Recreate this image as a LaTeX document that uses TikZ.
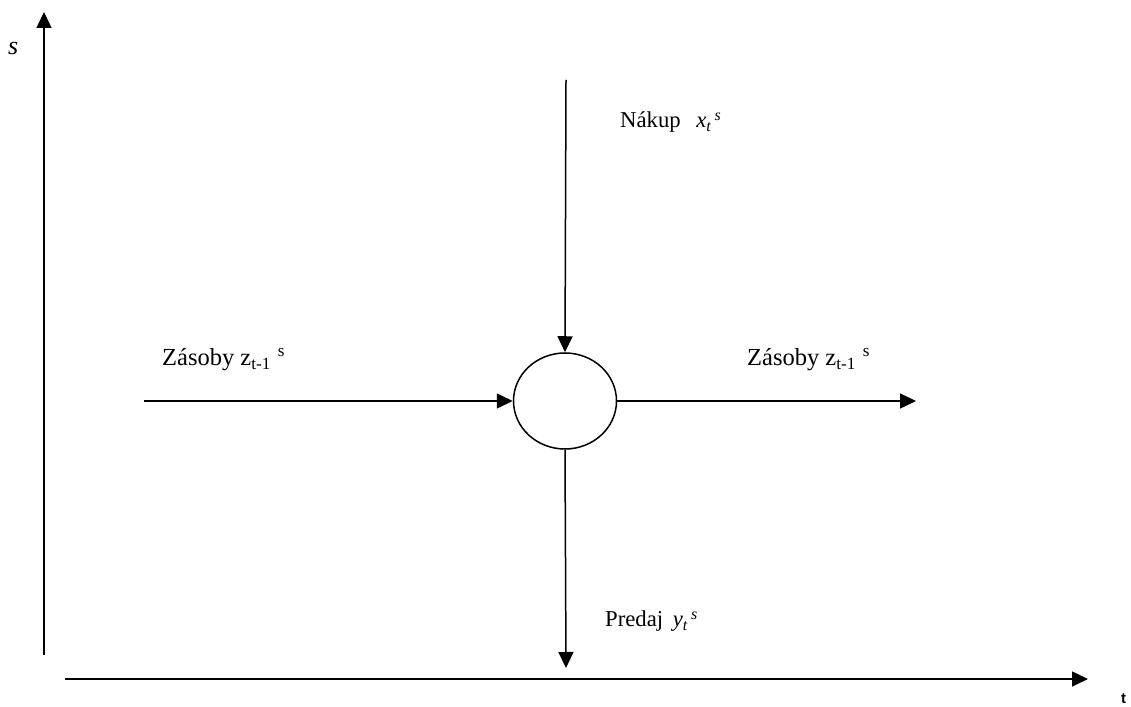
\documentclass[tikz,border=0pt]{standalone}
\usepackage{fontspec}
\setmainfont{Liberation Serif}
\setsansfont{Liberation Sans}
\usetikzlibrary{arrows.meta,shapes.geometric}
\tikzset{
  flow/.style={line width=1.5pt,-{Triangle[length=16pt,width=15pt]}},
  lbl/.style={anchor=base west,inner sep=0pt,font=\fontsize{22.7}{27}\selectfont},
  zlbl/.style={lbl,font=\fontsize{24.5}{29}\selectfont},
}
\begin{document}
\begin{tikzpicture}[x=1pt,y=1pt]
\useasboundingbox (0,0) rectangle (1131,706);
% axes
\coordinate (vb) at (44,51);
\coordinate (vt) at (44,694);
\coordinate (hl) at (65,27);
\coordinate (hr) at (1088,27);
\draw[flow] (vb) -- (vt);
\draw[flow] (hl) -- (hr);
\node[lbl,font=\fontsize{26}{30}\selectfont\itshape] (s) at (8,651) {s};
\node[lbl,font=\sffamily\fontsize{15}{18}\selectfont\bfseries] (t) at (1121,3) {t};
% node
\node[ellipse,draw,line width=1.5pt,minimum width=103pt,minimum height=96pt,inner sep=0pt] (c) at (565,305) {};
\coordinate (top) at (566,626);
\coordinate (lft) at (144,305);
\coordinate (rgt) at (916,305);
\coordinate (bot) at (566,38);
\draw[flow] (top) -- (c.north);
\draw[flow] (lft) -- (c.west);
\draw[flow] (c.east) -- (rgt);
\draw[flow] (c.south) -- (bot);
% labels
\node[lbl] (nakup) at (620,578) {Nákup\hspace{10pt} \textit{x}\textsubscript{\textit{t}}\kern3pt\textsuperscript{\textit{s}}};
\node[zlbl] (zl) at (162,340) {Zásoby z\textsubscript{t-1}\hspace{7pt}\textsuperscript{s}};
\node[zlbl] (zr) at (747,340) {Zásoby z\textsubscript{t-1}\hspace{7pt}\textsuperscript{s}};
\node[lbl] (predaj) at (605,79) {Predaj\hspace{4pt} \textit{y}\textsubscript{\textit{t}}\kern3pt\textsuperscript{\textit{s}}};
\end{tikzpicture}
\end{document}
